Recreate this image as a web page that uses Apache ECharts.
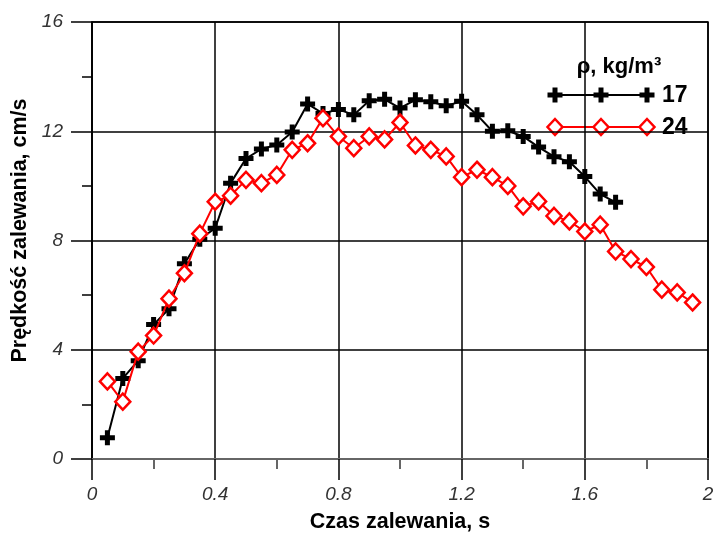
<!DOCTYPE html>
<html>
<head>
<meta charset="utf-8">
<script src="https://cdn.jsdelivr.net/npm/echarts@6/dist/echarts.min.js"></script>
<style>
  html, body { margin: 0; padding: 0; background: #fff; }
  #main { width: 716px; height: 535px; }
</style>
</head>
<body>
<div id="main"></div>
<script>
// czas zalewania [s] i prędkość [cm/s] dla gęstości 17 kg/m3
var time17 = [0.05, 0.10, 0.15, 0.20, 0.25, 0.30, 0.35, 0.40, 0.45, 0.50, 0.55, 0.60,
    0.65, 0.70, 0.75, 0.80, 0.85, 0.90, 0.95, 1.00, 1.05, 1.10, 1.15, 1.20,
    1.25, 1.30, 1.35, 1.40, 1.45, 1.50, 1.55, 1.60, 1.65, 1.70];
var speed17 = [0.78, 2.95, 3.6, 4.92, 5.5, 7.15, 8.05, 8.45, 10.1, 11.0, 11.35, 11.5,
    11.97, 13.0, 12.65, 12.8, 12.6, 13.12, 13.17, 12.85, 13.15, 13.08, 12.93, 13.1,
    12.6, 12.0, 12.02, 11.81, 11.42, 11.07, 10.88, 10.34, 9.7, 9.4];

// gęstość 24 kg/m3
var time24 = [0.05, 0.10, 0.15, 0.20, 0.25, 0.30, 0.35, 0.40, 0.45, 0.50, 0.55, 0.60,
    0.65, 0.70, 0.75, 0.80, 0.85, 0.90, 0.95, 1.00, 1.05, 1.10, 1.15, 1.20,
    1.25, 1.30, 1.35, 1.40, 1.45, 1.50, 1.55, 1.60, 1.65, 1.70, 1.75, 1.80,
    1.85, 1.90, 1.95];
var speed24 = [2.84, 2.1, 3.93, 4.52, 5.87, 6.8, 8.25, 9.42, 9.64, 10.22, 10.1, 10.4,
    11.32, 11.56, 12.48, 11.81, 11.38, 11.81, 11.7, 12.32, 11.48, 11.32, 11.08, 10.32,
    10.59, 10.32, 10.0, 9.25, 9.43, 8.9, 8.7, 8.33, 8.58, 7.6, 7.32, 7.03,
    6.2, 6.1, 5.73];

var seriesNames = ['17', '24'];
var legendTitle = 'ρ, kg/m³';

var FONT = 'Liberation Sans, Arial, sans-serif';
var CROSS = 'path://M5,0H10V5H15V10H10V15H5V10H0V5H5Z';

function pairs(xs, ys) {
    return xs.map(function (x, i) { return [x, ys[i]]; });
}

var chart = echarts.init(document.getElementById('main'));

// legenda rysowana ręcznie (trzy znaczniki na linii)
function legendRow(y, name, kind) {
    var color = kind === 'cross' ? '#000' : '#ff0000';
    var children = [{
        type: 'line',
        shape: {x1: 555, y1: y, x2: 647, y2: y},
        style: {stroke: color, lineWidth: 2}
    }];
    [555, 601, 647].forEach(function (x) {
        if (kind === 'cross') {
            var a = 2.5, b = 7.5;
            children.push({
                type: 'polygon',
                shape: {points: [[x - a, y - b], [x + a, y - b], [x + a, y - a], [x + b, y - a], [x + b, y + a],
                    [x + a, y + a], [x + a, y + b], [x - a, y + b], [x - a, y + a], [x - b, y + a],
                    [x - b, y - a], [x - a, y - a]]},
                style: {fill: '#000'}
            });
        } else {
            children.push({
                type: 'polygon',
                shape: {points: [[x, y - 8], [x + 7.5, y], [x, y + 8], [x - 7.5, y]]},
                style: {fill: '#fff', stroke: '#ff0000', lineWidth: 2.5}
            });
        }
    });
    children.push({
        type: 'text',
        style: {x: 662, y: y + 1, text: name, fill: '#000', font: 'bold 23px ' + FONT, verticalAlign: 'middle'}
    });
    return children;
}

var option = {
    backgroundColor: '#fff',
    animation: false,
    grid: {
        left: 92, right: 8, top: 22, bottom: 76,
        outerBoundsMode: 'none',
        show: true, borderColor: '#000', borderWidth: 1.5
    },
    xAxis: {
        type: 'value',
        min: 0, max: 2, interval: 0.4,
        name: 'Czas zalewania, s',
        nameLocation: 'middle',
        nameGap: 52,
        nameTextStyle: {fontFamily: FONT, fontWeight: 'bold', fontSize: 21.5, color: '#000'},
        axisLine: {lineStyle: {color: '#666', width: 2}},
        axisTick: {length: 21, lineStyle: {color: '#000', width: 1.5}},
        minorTick: {show: true, splitNumber: 2, length: 10, lineStyle: {color: '#666', width: 2}},
        axisLabel: {
            margin: 26, fontFamily: FONT, fontStyle: 'italic', fontSize: 19, color: '#333',
            formatter: function (v) { return String(+v.toFixed(1)); }
        },
        splitLine: {show: true, lineStyle: {color: '#000', width: 1.5}}
    },
    yAxis: {
        type: 'value',
        min: 0, max: 16, interval: 4,
        name: 'Prędkość zalewania, cm/s',
        nameLocation: 'middle',
        nameGap: 48,
        nameTextStyle: {fontFamily: FONT, fontWeight: 'bold', fontSize: 21.5, color: '#000', padding: [0, 0, 0, 20]},
        axisLine: {lineStyle: {color: '#000', width: 1.5}},
        axisTick: {length: 21, lineStyle: {color: '#000', width: 1.5}},
        minorTick: {show: true, splitNumber: 2, length: 10, lineStyle: {color: '#000', width: 1.5}},
        axisLabel: {margin: 29, fontFamily: FONT, fontStyle: 'italic', fontSize: 19, color: '#333'},
        splitLine: {show: true, lineStyle: {color: '#000', width: 1.5}}
    },
    series: [
        {
            name: seriesNames[0],
            type: 'line',
            data: pairs(time17, speed17),
            symbol: CROSS,
            symbolSize: 15,
            itemStyle: {color: '#000'},
            lineStyle: {color: '#000', width: 2},
            z: 3
        },
        {
            name: seriesNames[1],
            type: 'line',
            data: pairs(time24, speed24),
            symbol: 'diamond',
            symbolSize: [15, 16],
            itemStyle: {color: '#fff', borderColor: '#ff0000', borderWidth: 2.5},
            lineStyle: {color: '#ff0000', width: 2},
            z: 4
        }
    ],
    graphic: [{
        type: 'group',
        z: 100,
        children: [{
            type: 'rect',
            shape: {x: 546, y: 24, width: 157, height: 124},
            style: {fill: '#fff'}
        }, {
            type: 'text',
            style: {x: 619, y: 67, text: legendTitle, fill: '#000', font: 'bold 22px ' + FONT, align: 'center', verticalAlign: 'middle'}
        }].concat(legendRow(95, seriesNames[0], 'cross'), legendRow(127, seriesNames[1], 'diamond'))
    }]
};

chart.setOption(option);
</script>
</body>
</html>
